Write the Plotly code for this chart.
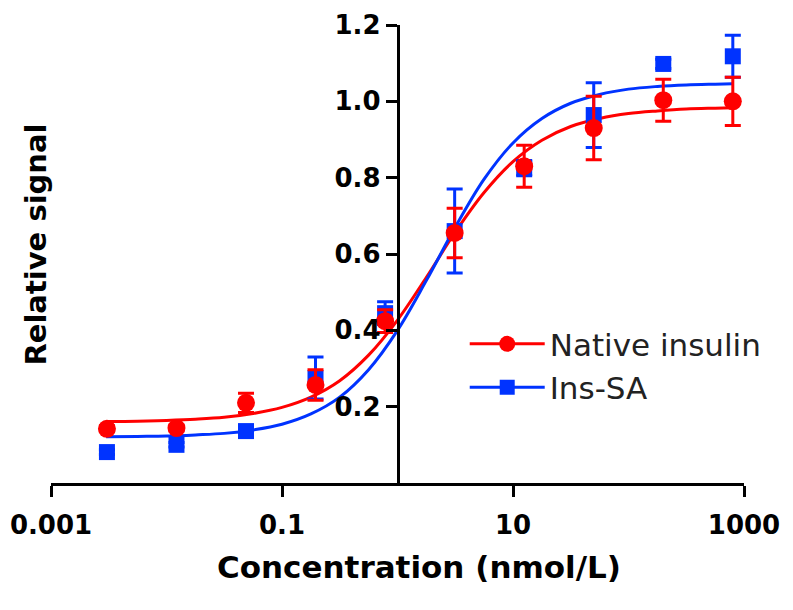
import plotly.graph_objects as go

# ---- data ----
conc = [0.00305, 0.0122, 0.0488, 0.195, 0.781, 3.125, 12.5, 50, 200, 800]

native_mean = [0.142, 0.144, 0.21, 0.257, 0.424, 0.655, 0.83, 0.93, 1.003, 1.0]
native_err = [0.008, 0.008, 0.025, 0.04, 0.03, 0.065, 0.055, 0.083, 0.055, 0.063]

inssa_mean = [0.081, 0.10, 0.136, 0.275, 0.445, 0.66, 0.825, 0.964, 1.098, 1.118]
inssa_err = [0.006, 0.006, 0.01, 0.055, 0.03, 0.11, 0.02, 0.085, 0.012, 0.055]

# fitted curves
curve_x = [0.003, 0.0056, 0.01, 0.0178, 0.0316, 0.0562, 0.1, 0.178, 0.316, 0.562,
           1, 1.78, 3.16, 5.62, 10, 17.8, 31.6, 56.2, 100, 178, 316, 562, 800]
native_curve = [0.161, 0.162, 0.164, 0.167, 0.172, 0.182, 0.198, 0.225, 0.268, 0.335,
                0.427, 0.539, 0.657, 0.761, 0.842, 0.898, 0.934, 0.955, 0.968, 0.975,
                0.980, 0.982, 0.983]
inssa_curve = [0.121, 0.122, 0.123, 0.126, 0.130, 0.139, 0.154, 0.181, 0.225, 0.297,
               0.400, 0.531, 0.670, 0.796, 0.891, 0.955, 0.995, 1.018, 1.032, 1.039,
               1.043, 1.045, 1.046]

series_names = ["Native insulin", "Ins-SA"]
x_tickvals = [0.001, 0.1, 10, 1000]
x_ticktext = ["0.001", "0.1", "10", "1000"]
y_tickvals = [0.2, 0.4, 0.6, 0.8, 1.0, 1.2]
y_ticktext = ["0.2", "0.4", "0.6", "0.8", "1.0", "1.2"]

RED = "#ff0000"
BLUE = "#0033ff"

fig = go.Figure()

# fit curves
fig.add_trace(go.Scatter(x=curve_x, y=native_curve, mode="lines", line=dict(color=RED, width=3, shape="spline"),
                         showlegend=False, hoverinfo="skip"))
fig.add_trace(go.Scatter(x=curve_x, y=inssa_curve, mode="lines", line=dict(color=BLUE, width=3, shape="spline"),
                         showlegend=False, hoverinfo="skip"))

# data points with error bars
fig.add_trace(go.Scatter(x=conc, y=inssa_mean, mode="markers",
                         marker=dict(symbol="square", size=16, color=BLUE),
                         error_y=dict(type="data", array=inssa_err, color=BLUE, thickness=3, width=8),
                         showlegend=False))
fig.add_trace(go.Scatter(x=conc, y=native_mean, mode="markers",
                         marker=dict(symbol="circle", size=18, color=RED),
                         error_y=dict(type="data", array=native_err, color=RED, thickness=3, width=8),
                         showlegend=False))

# legend entries
fig.add_trace(go.Scatter(x=[None], y=[None], mode="lines+markers", name=series_names[0],
                         line=dict(color=RED, width=3), marker=dict(symbol="circle", size=16, color=RED)))
fig.add_trace(go.Scatter(x=[None], y=[None], mode="lines+markers", name=series_names[1],
                         line=dict(color=BLUE, width=3), marker=dict(symbol="square", size=15, color=BLUE)))

fig.update_layout(
    width=793, height=610,
    margin=dict(l=43, r=57, t=17, b=135, autoexpand=False),
    paper_bgcolor="white", plot_bgcolor="white",
    font=dict(family="DejaVu Sans", color="black"),
    xaxis=dict(
        type="log", range=[-3, 3], automargin=False,
        tickvals=x_tickvals, ticktext=x_ticktext,
        ticks="outside", ticklen=11, tickwidth=2.5, tickcolor="black",
        ticklabelstandoff=6, ticklabeloverflow="allow",
        showline=True, linewidth=2.5, linecolor="black",
        showgrid=False, zeroline=False,
        tickfont=dict(family="DejaVu Sans", size=26, color="black", weight="bold"),
    ),
    yaxis=dict(
        range=[0, 1.2], anchor="free", position=0.5, automargin=False,
        tickvals=y_tickvals, ticktext=y_ticktext,
        ticks="outside", ticklen=11, tickwidth=2.5, tickcolor="black",
        ticklabeloverflow="allow",
        showline=True, linewidth=2.5, linecolor="black",
        showgrid=False, zeroline=False,
        tickfont=dict(family="DejaVu Sans", size=26, color="black", weight="bold"),
    ),
    legend=dict(x=0.597, y=0.362, xanchor="left", yanchor="top",
                bgcolor="rgba(0,0,0,0)", font=dict(family="DejaVu Sans", size=31, color="#222"),
                itemwidth=75, tracegroupgap=0),
    annotations=[
        dict(text="<b>Relative signal</b>", xref="paper", yref="paper",
             x=-0.022, y=0.52, xanchor="center", yanchor="middle", textangle=-90,
             showarrow=False, font=dict(family="DejaVu Sans", size=29, color="black")),
        dict(text="<b>Concentration (nmol/L)</b>", xref="paper", yref="paper",
             x=0.531, y=-0.183, xanchor="center", yanchor="middle",
             showarrow=False, font=dict(family="DejaVu Sans", size=31, color="black")),
    ],
)

fig.write_html("out.html")
